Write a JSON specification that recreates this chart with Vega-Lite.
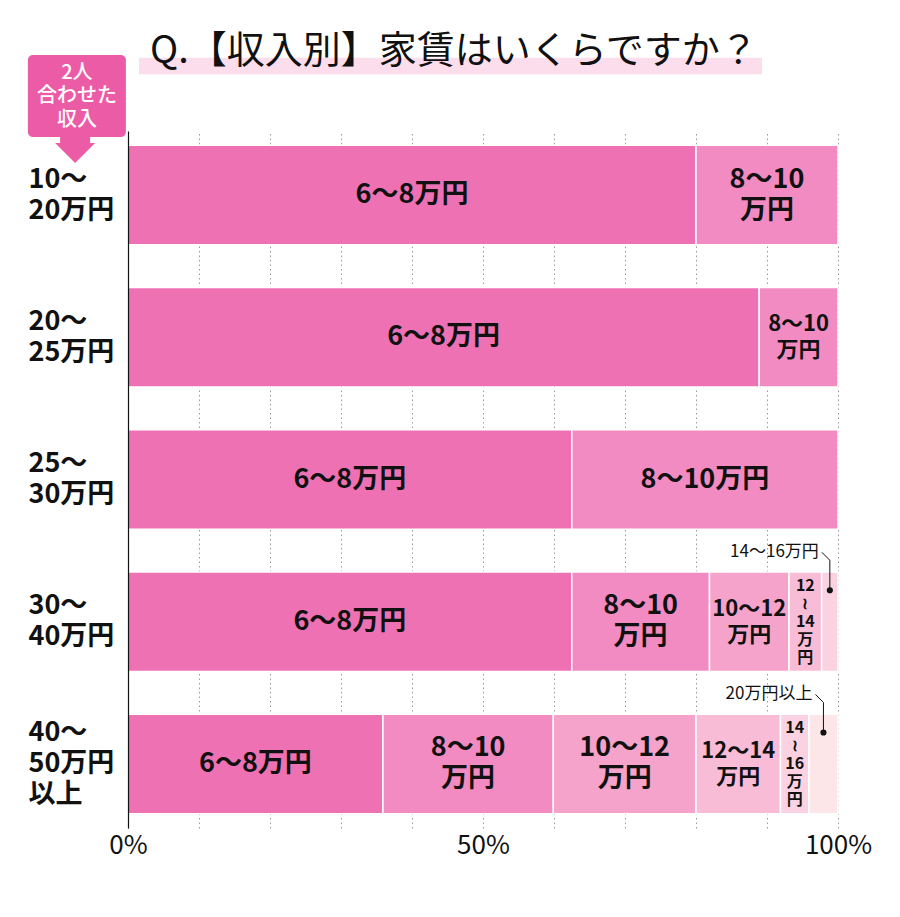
{
  "$schema": "https://vega.github.io/schema/vega-lite/v6.json",
  "width": 710,
  "height": 697,
  "autosize": "none",
  "padding": {"left": 128, "top": 131, "right": 62, "bottom": 89},
  "background": "white",
  "config": {"font": "Noto Sans CJK JP", "view": {"stroke": null}},
  "datasets": {
    "rent": [
      {"income": "10～|20万円", "rent": "6～8万円", "order": 1, "pct": 80.0, "label": "6～8万円"},
      {"income": "10～|20万円", "rent": "8～10万円", "order": 2, "pct": 20.0, "label": "8～10|万円"},
      {"income": "20～|25万円", "rent": "6～8万円", "order": 1, "pct": 88.9, "label": "6～8万円"},
      {"income": "20～|25万円", "rent": "8～10万円", "order": 2, "pct": 11.1, "label": "8～10|万円"},
      {"income": "25～|30万円", "rent": "6～8万円", "order": 1, "pct": 62.5, "label": "6～8万円"},
      {"income": "25～|30万円", "rent": "8～10万円", "order": 2, "pct": 37.5, "label": "8～10万円"},
      {"income": "30～|40万円", "rent": "6～8万円", "order": 1, "pct": 62.5, "label": "6～8万円"},
      {"income": "30～|40万円", "rent": "8～10万円", "order": 2, "pct": 19.4, "label": "8～10|万円"},
      {"income": "30～|40万円", "rent": "10～12万円", "order": 3, "pct": 11.2, "label": "10～12|万円"},
      {"income": "30～|40万円", "rent": "12～14万円", "order": 4, "pct": 4.6, "label": "12|≀|14|万|円"},
      {"income": "30～|40万円", "rent": "14～16万円", "order": 5, "pct": 2.3, "label": ""},
      {"income": "40～|50万円|以上", "rent": "6～8万円", "order": 1, "pct": 35.9, "label": "6～8万円"},
      {"income": "40～|50万円|以上", "rent": "8～10万円", "order": 2, "pct": 24.0, "label": "8～10|万円"},
      {"income": "40～|50万円|以上", "rent": "10～12万円", "order": 3, "pct": 20.1, "label": "10～12|万円"},
      {"income": "40～|50万円|以上", "rent": "12～14万円", "order": 4, "pct": 11.9, "label": "12～14|万円"},
      {"income": "40～|50万円|以上", "rent": "14～16万円", "order": 5, "pct": 4.0, "label": "14|≀|16|万|円"},
      {"income": "40～|50万円|以上", "rent": "20万円以上", "order": 6, "pct": 4.1, "label": ""}
    ]
  },
  "layer": [
    {
      "data": {"values": [{}]},
      "mark": {"type": "bar", "height": 16.6, "yOffset": -129, "color": "#FCDDEC"},
      "encoding": {
        "x": {"datum": 1.55, "type": "quantitative"},
        "x2": {"datum": 89.3},
        "y": {"datum": "10～|20万円", "type": "nominal"}
      }
    },
    {
      "data": {"values": [{}]},
      "mark": {"type": "text", "text": "Q.【収入別】家賃はいくらですか？", "align": "left", "baseline": "alphabetic", "yOffset": -132, "fontSize": 38, "fontWeight": "normal", "color": "#111111"},
      "encoding": {
        "x": {"datum": 3.1, "type": "quantitative"},
        "y": {"datum": "10～|20万円", "type": "nominal"}
      }
    },
    {
      "data": {"values": [{}]},
      "mark": {"type": "bar", "height": 82, "yOffset": -99, "cornerRadius": 5, "color": "#EC5BA6"},
      "encoding": {
        "x": {"datum": -14.1, "type": "quantitative"},
        "x2": {"datum": -0.3},
        "y": {"datum": "10～|20万円", "type": "nominal"}
      }
    },
    {
      "data": {"values": [{}]},
      "mark": {"type": "point", "shape": "M-0.75,-0.8L0.75,-0.8L0.75,-0.325L1,-0.325L0,0.675L-1,-0.325L-0.75,-0.325Z", "size": 1600, "filled": true, "opacity": 1, "color": "#EC5BA6", "strokeWidth": 0, "yOffset": -45.5},
      "encoding": {
        "x": {"datum": -7.45, "type": "quantitative"},
        "y": {"datum": "10～|20万円", "type": "nominal"}
      }
    },
    {
      "data": {"values": [{}]},
      "mark": {"type": "text", "text": "2人|合わせた|収入", "lineBreak": "|", "lineHeight": 23.5, "align": "center", "baseline": "middle", "yOffset": -122.5, "fontSize": 20, "fontWeight": 500, "color": "white"},
      "encoding": {
        "x": {"datum": -7.2, "type": "quantitative"},
        "y": {"datum": "10～|20万円", "type": "nominal"}
      }
    },
    {
      "data": {"name": "rent"},
      "transform": [
        {"stack": "pct", "groupby": ["income"], "sort": [{"field": "order", "order": "ascending"}], "as": ["x0", "x1"]},
        {"calculate": "(datum.x0 + datum.x1) / 2", "as": "xm"}
      ],
      "layer": [
        {
          "mark": {"type": "bar", "stroke": "white", "strokeWidth": 1.5},
          "encoding": {
            "x": {
              "field": "x0", "type": "quantitative",
              "scale": {"domain": [0, 100], "nice": false, "zero": false},
              "axis": {
                "values": [0, 10, 20, 30, 40, 50, 60, 70, 80, 90, 100],
                "labelExpr": "datum.value % 50 === 0 ? datum.value + '%' : ''",
                "title": null, "domain": false, "ticks": false, "tickSize": 0,
                "labelFontSize": 26, "labelColor": "#111111", "labelPadding": 4, "labelFlush": false,
                "grid": true, "gridColor": "#9a9a9a", "gridDash": [1.5, 3], "gridWidth": 1
              }
            },
            "x2": {"field": "x1"},
            "y": {
              "field": "income", "type": "nominal",
              "scale": {"domain": ["10～|20万円", "20～|25万円", "25～|30万円", "30～|40万円", "40～|50万円|以上"], "paddingInner": 0.3, "paddingOuter": 0.1},
              "axis": {
                "title": null, "ticks": false, "tickSize": 0, "domain": true, "domainColor": "#111111", "domainWidth": 1.2, "zindex": 1,
                "labelExpr": "split(datum.label, '|')", "labelAlign": "left", "labelBaseline": "middle",
                "labelPadding": 100, "labelFontSize": 27, "labelFontWeight": "bold", "labelLineHeight": 31, "labelColor": "#111111", "grid": false,
                "labelOffset": {"condition": {"test": "indexof(datum.value, '以上') >= 0", "value": -31}, "value": -15.5}
              }
            },
            "color": {
              "field": "rent", "type": "nominal",
              "scale": {
                "domain": ["6～8万円", "8～10万円", "10～12万円", "12～14万円", "14～16万円", "20万円以上"],
                "range": ["#EE71B4", "#F28BC1", "#F5A3CB", "#F8BCD7", "#FAD2E1", "#FDE6E8"]
              },
              "legend": null
            }
          }
        },
        {
          "transform": [{"filter": "datum.pct >= 15 && indexof(datum.label, '|') < 0"}],
          "mark": {"type": "text", "fontSize": 27, "fontWeight": "bold", "color": "#111111", "align": "center", "baseline": "middle"},
          "encoding": {
            "x": {"field": "xm", "type": "quantitative"},
            "y": {"field": "income", "type": "nominal"},
            "text": {"field": "label"}
          }
        },
        {
          "transform": [{"filter": "datum.pct >= 15 && indexof(datum.label, '|') >= 0"}],
          "mark": {"type": "text", "lineBreak": "|", "lineHeight": 31, "fontSize": 27, "fontWeight": "bold", "color": "#111111", "align": "center", "baseline": "middle", "dy": -15.5},
          "encoding": {
            "x": {"field": "xm", "type": "quantitative"},
            "y": {"field": "income", "type": "nominal"},
            "text": {"field": "label"}
          }
        },
        {
          "transform": [{"filter": "datum.pct >= 8 && datum.pct < 15"}],
          "mark": {"type": "text", "lineBreak": "|", "lineHeight": 26, "fontSize": 22, "fontWeight": "bold", "color": "#111111", "align": "center", "baseline": "middle", "dy": -13},
          "encoding": {
            "x": {"field": "xm", "type": "quantitative"},
            "y": {"field": "income", "type": "nominal"},
            "text": {"field": "label"}
          }
        },
        {
          "transform": [{"filter": "datum.pct < 8 && datum.label != ''"}],
          "mark": {"type": "text", "lineBreak": "|", "lineHeight": 18, "fontSize": 16, "fontWeight": "bold", "color": "#111111", "align": "center", "baseline": "middle", "dy": -36},
          "encoding": {
            "x": {"field": "xm", "type": "quantitative"},
            "y": {"field": "income", "type": "nominal"},
            "text": {"field": "label"}
          }
        },
        {
          "transform": [{"filter": "datum.label == ''"}],
          "mark": {"type": "text", "fontSize": 17, "fontWeight": "normal", "color": "#111111", "align": "right", "baseline": "middle", "dx": -11, "yOffset": -70},
          "encoding": {
            "x": {"field": "xm", "type": "quantitative"},
            "y": {"field": "income", "type": "nominal"},
            "text": {"field": "rent"}
          }
        },
        {
          "transform": [{"filter": "datum.label == ''"}],
          "mark": {"type": "point", "shape": "M-8,-38L0,-30L0,0", "size": 4, "filled": false, "opacity": 1, "color": "#111111", "strokeWidth": 1, "yOffset": -31.5},
          "encoding": {
            "x": {"field": "xm", "type": "quantitative"},
            "y": {"field": "income", "type": "nominal"}
          }
        },
        {
          "transform": [{"filter": "datum.label == ''"}],
          "mark": {"type": "point", "shape": "circle", "size": 38, "filled": true, "opacity": 1, "color": "#111111", "yOffset": -31.5},
          "encoding": {
            "x": {"field": "xm", "type": "quantitative"},
            "y": {"field": "income", "type": "nominal"}
          }
        }
      ]
    }
  ]
}
